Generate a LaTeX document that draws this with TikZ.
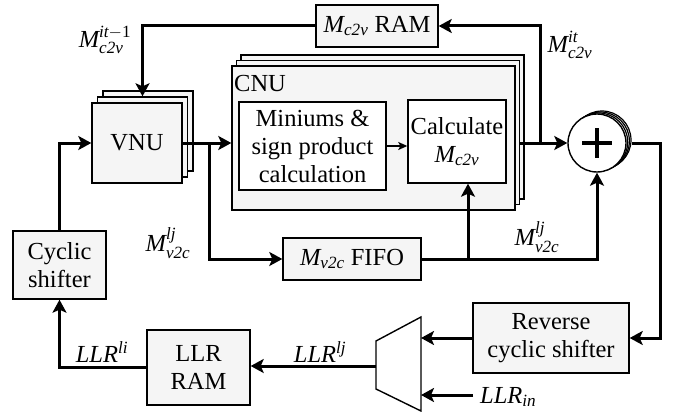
\documentclass[tikz,border=0pt]{standalone}
\usepackage{amsmath}
\usepackage{fontspec}
\setmainfont{Liberation Serif}
\usetikzlibrary{arrows.meta,calc}
\newcommand{\tx}[1]{\text{\itshape #1}}
\begin{document}
\begin{tikzpicture}[x=1pt,y=-1pt, font=\fontsize{24.5}{28}\selectfont,
  box/.style={draw, line width=1.4pt, fill=black!4, inner sep=0pt, align=center},
  wbox/.style={draw, line width=1.4pt, fill=white, inner sep=0pt, align=center},
  addc/.style={draw, circle, line width=1.2pt, fill=white, minimum size=58pt, inner sep=0pt},
  arr/.style={line width=3pt, -{Stealth[length=13pt,width=14pt,inset=3pt]}},
  thinarr/.style={line width=1.4pt, -{Stealth[length=9pt,width=8pt,inset=2pt]}},
  lab/.style={inner sep=0pt}]
\useasboundingbox (0,0) rectangle (678,412);

% RAM
\node[box, minimum width=122pt, minimum height=42pt] (ram) at (377,26) {$\tx{M}_{\tx{c2v}}$ RAM};

% VNU stack
\node[box, minimum width=90pt, minimum height=80pt] (vnu2) at (148,131) {};
\node[box, minimum width=90pt, minimum height=80pt] (vnu1) at (142.5,137) {};
\node[box, minimum width=90pt, minimum height=80pt] (vnu) at (137,143) {VNU};

% CNU stack
\node[box, minimum width=283pt, minimum height=144pt] (cnu2) at (382.5,127) {};
\node[box, minimum width=283pt, minimum height=144pt] (cnu1) at (378,132.5) {};
\node[box, minimum width=283pt, minimum height=144pt] (cnu) at (373.5,138) {};
\node[lab, anchor=west] (cnulab) at (234,84) {CNU};
\node[wbox, minimum width=147pt, minimum height=88pt] (mins) at (312.5,146) {Miniums \&\\sign product\\calculation};
\node[wbox, minimum width=98pt, minimum height=83pt] (calc) at (457,141.5) {Calculate\\$\tx{M}_{\tx{c2v}}$};

% FIFO
\node[box, minimum width=138pt, minimum height=42pt] (fifo) at (352,259) {$\tx{M}_{\tx{v2c}}$ FIFO};

% adder
\node[addc] (add3) at (602,140) {};
\node[addc] (add2) at (600.4,141) {};
\node[addc] (add1) at (598.7,142) {};
\node[addc, line width=1.4pt] (add) at (597,143) {};
\draw[line width=4.5pt] ($(add)+(-15,0)$) -- ($(add)+(15,0)$);
\draw[line width=4.5pt] ($(add)+(0,-15)$) -- ($(add)+(0,15)$);

% lower boxes
\node[box, minimum width=156pt, minimum height=70pt] (rev) at (551,338) {Reverse\\cyclic shifter};
\node[box, minimum width=103pt, minimum height=75pt] (llr) at (198.5,367.5) {LLR\\RAM};
\node[box, minimum width=93pt, minimum height=68pt] (cyc) at (59.5,265) {Cyclic\\shifter};

% mux
\draw[line width=1.4pt, fill=white] (376,341) -- (421,317) -- (421,411) -- (376,389) -- cycle;
\coordinate (muxtop) at (421,340);
\coordinate (muxin) at (421,395);
\coordinate (muxout) at (376,366);
\coordinate (llrin) at (473,395);

% junctions
\coordinate (b1) at (209,143);
\coordinate (b2) at (540,143);
\coordinate (b3) at (468,259);
\coordinate (c1) at (660,143);

% wires
\draw[arr] (vnu.east) -- (vnu.east -| cnu.west);
\draw[arr] (b1) |- (fifo.west);
\draw[thinarr] (mins.east) -- (mins.east -| calc.west);
\draw[arr] (cnu1.east |- add.west) -- (add.west);
\draw[arr] (b2) |- (ram.east);
\draw[arr] (ram.west) -| (vnu1.north);
\draw[arr] (add.east -| add3.east) -- (c1) |- (rev.east);
\draw[arr] (rev.west) -- (rev.west -| muxtop);
\draw[arr] (llrin) -- (muxin);
\draw[arr] (muxout) -- (muxout -| llr.east);
\draw[arr] (llr.west) -| (cyc.south);
\draw[arr] (cyc.north) |- (vnu.west);
\draw[arr] (fifo.east) -| (add.south);
\draw[arr] (b3) -- (b3 |- calc.south);

% labels
\node[lab] at (105,40) {$\tx{M}_{\tx{c2v}}^{\tx{it}-\text{1}}$};
\node[lab] at (570,45) {$\tx{M}_{\tx{c2v}}^{\tx{it}}$};
\node[lab] at (168,243) {$\tx{M}_{\tx{v2c}}^{\tx{lj}}$};
\node[lab] at (537,237) {$\tx{M}_{\tx{v2c}}^{\tx{lj}}$};
\node[lab] at (102,352) {$\tx{LLR}^{\tx{li}}$};
\node[lab] at (320,352) {$\tx{LLR}^{\tx{lj}}$};
\node[lab, anchor=west] at (480,397) {$\tx{LLR}_{\tx{in}}$};
\end{tikzpicture}
\end{document}
